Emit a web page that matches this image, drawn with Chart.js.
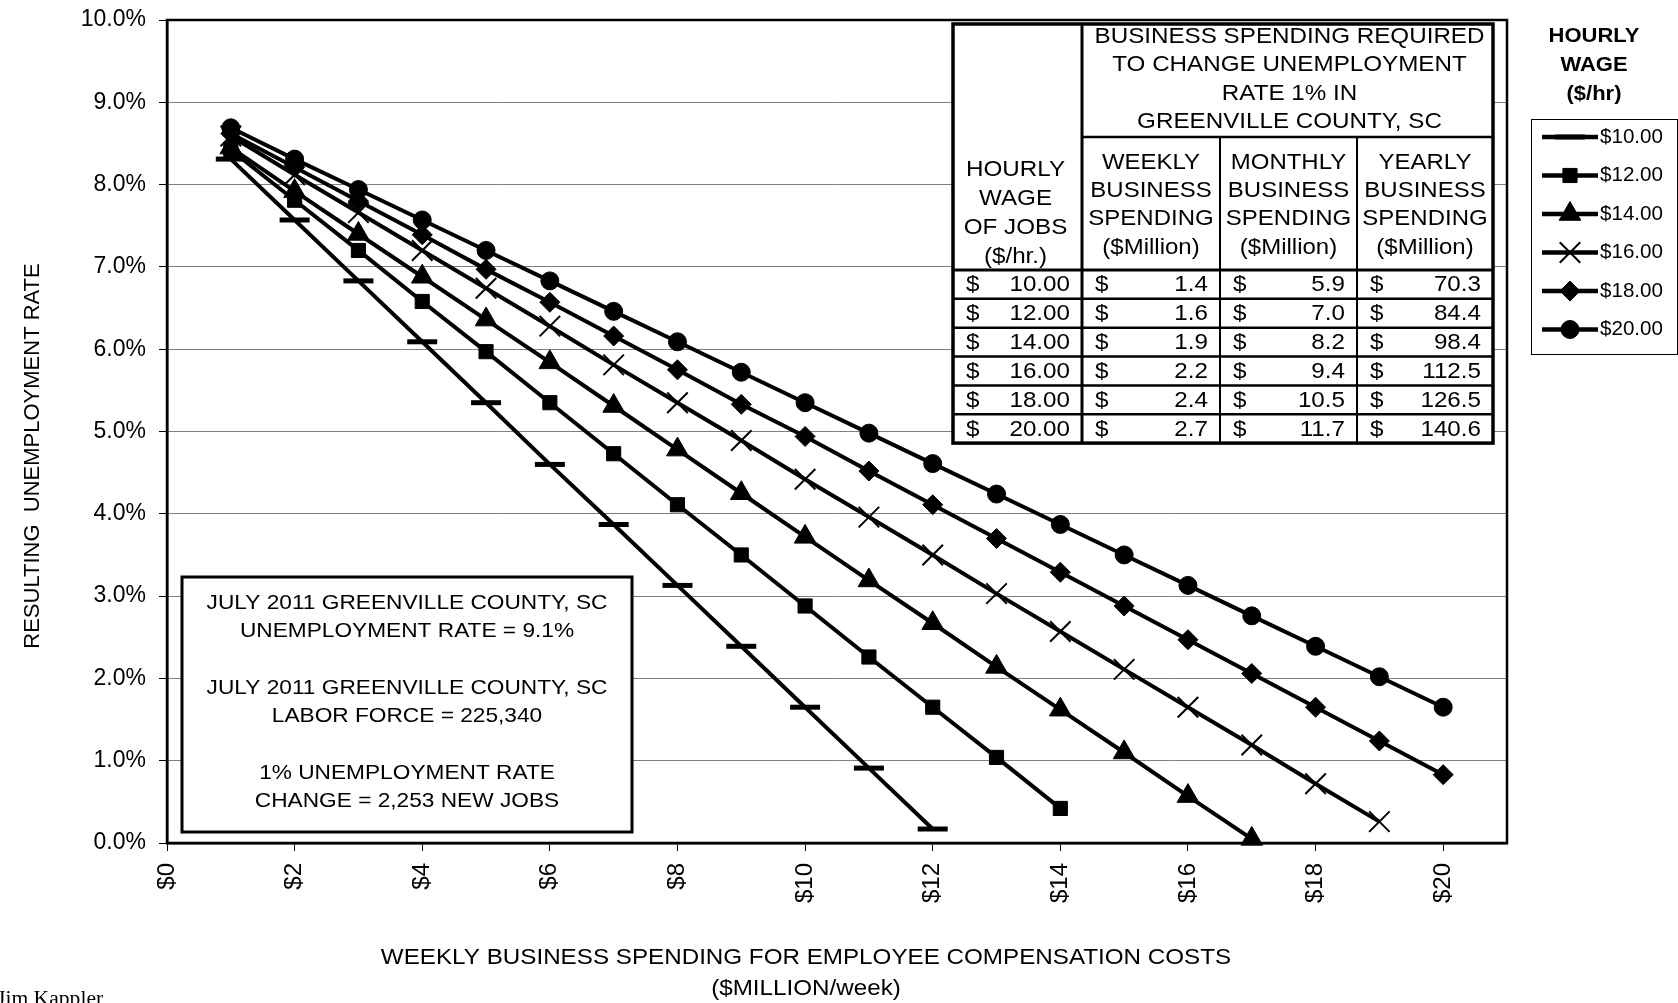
<!DOCTYPE html>
<html>
<head>
<meta charset="utf-8">
<script src="https://cdn.jsdelivr.net/npm/chart.js@4.4.1/dist/chart.umd.min.js"></script>
<style>
  html, body { margin: 0; padding: 0; background: #fff; }
  #wrap { width: 1678px; height: 1003px; }
</style>
</head>
<body>
<div id="wrap"><canvas id="chart" width="1678" height="1003"></canvas></div>
<script>
// weekly business spending ($million/week) at each marker
const spend = [1, 2, 3, 4, 5, 6, 7, 8, 9, 10, 11, 12, 13, 14, 15, 16, 17, 18, 19, 20];

// resulting unemployment rate (%) per hourly wage
const rate10 = [8.31, 7.57, 6.83, 6.09, 5.35, 4.60, 3.87, 3.13, 2.39, 1.65, 0.91, 0.17];
const rate12 = [8.42, 7.81, 7.20, 6.58, 5.97, 5.35, 4.73, 4.11, 3.50, 2.88, 2.26, 1.65, 1.04, 0.42];
const rate14 = [8.45, 7.92, 7.40, 6.88, 6.36, 5.84, 5.31, 4.78, 4.25, 3.72, 3.19, 2.67, 2.14, 1.62, 1.10, 0.57, 0.05];
const rate16 = [8.59, 8.12, 7.66, 7.20, 6.74, 6.28, 5.81, 5.35, 4.89, 4.42, 3.96, 3.50, 3.03, 2.57, 2.11, 1.65, 1.19, 0.72, 0.26];
const rate18 = [8.62, 8.21, 7.80, 7.39, 6.97, 6.57, 6.16, 5.75, 5.33, 4.94, 4.52, 4.11, 3.70, 3.29, 2.88, 2.47, 2.06, 1.65, 1.24, 0.83];
const rate20 = [8.69, 8.31, 7.94, 7.57, 7.20, 6.83, 6.46, 6.09, 5.72, 5.35, 4.98, 4.61, 4.24, 3.87, 3.50, 3.13, 2.76, 2.39, 2.02, 1.65];
const wageLabels = ['$10.00', '$12.00', '$14.00', '$16.00', '$18.00', '$20.00'];

// table in the upper right
const tblWage = [10, 12, 14, 16, 18, 20];
const tblWeekly = [1.4, 1.6, 1.9, 2.2, 2.4, 2.7];
const tblMonthly = [5.9, 7.0, 8.2, 9.4, 10.5, 11.7];
const tblYearly = [70.3, 84.4, 98.4, 112.5, 126.5, 140.6];

// note box
const noteLines = ['JULY 2011 GREENVILLE COUNTY, SC', 'UNEMPLOYMENT RATE = 9.1%', '',
  'JULY 2011 GREENVILLE COUNTY, SC', 'LABOR FORCE = 225,340', '',
  '1% UNEMPLOYMENT RATE', 'CHANGE = 2,253 NEW JOBS'];

const SANS = "'Liberation Sans', Arial, sans-serif";
const SERIF = "'Liberation Serif', 'Times New Roman', serif";

// marker looks, one per series
const markers = [
  { pointStyle: 'line', r: 15, bw: 5 },
  { pointStyle: 'rect', r: 10, bw: 1 },
  { pointStyle: 'triangle', r: 12.5, bw: 1 },
  { pointStyle: 'crossRot', r: 14.5, bw: 2 },
  { pointStyle: 'rectRot', r: 10, bw: 1 },
  { pointStyle: 'circle', r: 9, bw: 1 }
];
const rates = [rate10, rate12, rate14, rate16, rate18, rate20];

const datasets = rates.map((arr, i) => ({
  label: wageLabels[i],
  data: arr.map((v, k) => ({ x: spend[k], y: v })),
  borderColor: '#000',
  backgroundColor: '#000',
  borderWidth: 4,
  pointStyle: markers[i].pointStyle,
  pointRadius: markers[i].r,
  pointBorderWidth: markers[i].bw,
  pointBackgroundColor: '#000',
  pointBorderColor: '#000',
  tension: 0,
  fill: false,
  clip: false
}));

function txt(ctx, s, x, y, font, align, sx, rot) {
  ctx.save();
  ctx.font = font;
  ctx.fillStyle = '#000';
  ctx.textBaseline = 'middle';
  ctx.textAlign = align || 'center';
  ctx.translate(x, y);
  if (rot) ctx.rotate(rot);
  ctx.scale(sx || 1, 1);
  ctx.fillText(s, 0, 0);
  ctx.restore();
}

function line(ctx, x1, y1, x2, y2, w) {
  ctx.beginPath();
  ctx.lineWidth = w;
  ctx.strokeStyle = '#000';
  ctx.moveTo(x1, y1);
  ctx.lineTo(x2, y2);
  ctx.stroke();
}

// boxes on the plot (table + note), drawn over the grid
const boxesPlugin = {
  id: 'boxes',
  beforeDatasetsDraw(chart) {
    const ctx = chart.ctx;
    const tf = '22px ' + SANS;

    // --- table ---
    const cx = [953, 1082, 1220, 1357, 1493];
    const top = 24, mid = 137, head = 270, rowH = 28.85;
    const bottom = head + rowH * tblWage.length;
    ctx.save();
    ctx.fillStyle = '#fff';
    ctx.fillRect(cx[0], top, cx[4] - cx[0], bottom - top);
    line(ctx, cx[1], mid, cx[4], mid, 2.5);
    line(ctx, cx[0], head, cx[4], head, 3);
    for (let r = 1; r < tblWage.length; r++) line(ctx, cx[0], head + r * rowH, cx[4], head + r * rowH, 2.5);
    line(ctx, cx[1], top, cx[1], bottom, 3);
    line(ctx, cx[2], mid, cx[2], bottom, 2);
    line(ctx, cx[3], mid, cx[3], bottom, 2);
    ctx.lineWidth = 3.5;
    ctx.strokeRect(cx[0], top, cx[4] - cx[0], bottom - top);
    ctx.restore();

    ['BUSINESS SPENDING REQUIRED', 'TO CHANGE UNEMPLOYMENT', 'RATE 1% IN', 'GREENVILLE COUNTY, SC']
      .forEach((s, i) => txt(ctx, s, (cx[1] + cx[4]) / 2 + 2, 37 + i * 28.3, tf, 'center', 1.1));
    ['HOURLY', 'WAGE', 'OF JOBS', '($/hr.)']
      .forEach((s, i) => txt(ctx, s, (cx[0] + cx[1]) / 2 - 2, 170 + i * 29, tf, 'center', 1.1));
    ['WEEKLY', 'MONTHLY', 'YEARLY'].forEach((h, c) => {
      [h, 'BUSINESS', 'SPENDING', '($Million)']
        .forEach((s, i) => txt(ctx, s, (cx[c + 1] + cx[c + 2]) / 2, 163 + i * 28.2, tf, 'center', 1.09));
    });
    const cols = [tblWage.map(v => v.toFixed(2)), tblWeekly.map(v => v.toFixed(1)),
                  tblMonthly.map(v => v.toFixed(1)), tblYearly.map(v => v.toFixed(1))];
    cols.forEach((vals, c) => {
      vals.forEach((s, r) => {
        const y = head + rowH * (r + 0.5) + 1;
        txt(ctx, '$', cx[c] + 13, y, tf, 'left', 1.1);
        txt(ctx, s, cx[c + 1] - 12, y, tf, 'right', 1.1);
      });
    });

    // --- note box ---
    ctx.save();
    ctx.fillStyle = '#fff';
    ctx.fillRect(182, 577, 450, 255);
    ctx.lineWidth = 3;
    ctx.strokeStyle = '#000';
    ctx.strokeRect(182, 577, 450, 255);
    ctx.restore();
    noteLines.forEach((s, i) => {
      if (s) txt(ctx, s, 407, 603 + i * 28.33, '21px ' + SANS, 'center', 1.08);
    });
  }
};

// frame, axis titles, legend and credit
const decorPlugin = {
  id: 'decor',
  afterDraw(chart) {
    const ctx = chart.ctx;
    const a = chart.chartArea;
    ctx.save();
    ctx.lineWidth = 2.5;
    ctx.strokeStyle = '#000';
    ctx.strokeRect(a.left, a.top, a.right - a.left, a.bottom - a.top);
    ctx.restore();

    txt(ctx, 'RESULTING  UNEMPLOYMENT RATE', 33, 456, '22px ' + SANS, 'center', 1, -Math.PI / 2);
    txt(ctx, 'WEEKLY BUSINESS SPENDING FOR EMPLOYEE COMPENSATION COSTS', 806, 958, '22px ' + SANS, 'center', 1.1);
    txt(ctx, '($MILLION/week)', 806, 989, '22px ' + SANS, 'center', 1.1);

    ctx.save();
    ctx.font = '20px ' + SERIF;
    ctx.fillStyle = '#000';
    ctx.textBaseline = 'alphabetic';
    ctx.translate(-3, 1005);
    ctx.scale(1.08, 1);
    ctx.fillText('Jim Kappler', 0, 0);
    ctx.restore();

    // legend
    ['HOURLY', 'WAGE', '($/hr)'].forEach((s, i) => txt(ctx, s, 1594, 36.5 + i * 28.8, 'bold 20px ' + SANS, 'center', 1.1));
    ctx.save();
    ctx.lineWidth = 1;
    ctx.strokeStyle = '#000';
    ctx.strokeRect(1531.5, 119.5, 146, 235);
    ctx.restore();
    chart.data.datasets.forEach((ds, i) => {
      const y = 137 + i * 38.5;
      line(ctx, 1542, y, 1598, y, 4.5);
      ctx.save();
      ctx.fillStyle = '#000';
      ctx.strokeStyle = '#000';
      ctx.lineWidth = ds.pointBorderWidth;
      Chart.helpers.drawPoint(ctx, { pointStyle: ds.pointStyle, radius: ds.pointRadius, rotation: 0, borderWidth: ds.pointBorderWidth }, 1570, y);
      ctx.restore();
      txt(ctx, ds.label, 1600, y, '20px ' + SANS, 'left', 1.03);
    });
  }
};

Chart.defaults.color = '#000';
Chart.defaults.font.family = SANS;

new Chart(document.getElementById('chart'), {
  type: 'line',
  data: { datasets },
  options: {
    responsive: false,
    animation: false,
    devicePixelRatio: 1,
    events: [],
    layout: { padding: { left: 0, top: 16, right: 171, bottom: 0 } },
    plugins: { legend: { display: false }, tooltip: { enabled: false } },
    scales: {
      x: {
        type: 'linear',
        min: 0,
        max: 21,
        afterFit: s => { s.height = 160; s.paddingLeft = 0; s.paddingRight = 0; },
        ticks: {
          stepSize: 2,
          includeBounds: false,
          autoSkip: false,
          minRotation: 90,
          maxRotation: 90,
          padding: 12,
          font: { size: 24 },
          callback: v => '$' + v
        },
        grid: { drawOnChartArea: false, drawTicks: true, tickLength: 8, tickColor: '#000', tickWidth: 1 },
        border: { display: true, color: '#000', width: 2.5 }
      },
      y: {
        min: 0,
        max: 10,
        afterFit: s => { s.width = 167; s.paddingTop = 0; s.paddingBottom = 0; },
        ticks: {
          stepSize: 1,
          padding: 13,
          font: { size: 23 },
          callback: v => v.toFixed(1) + '%'
        },
        grid: { color: '#7f7f7f', lineWidth: 1, tickLength: 8, tickColor: '#000', tickWidth: 1 },
        border: { display: true, color: '#000', width: 2.5 }
      }
    }
  },
  plugins: [boxesPlugin, decorPlugin]
});
</script>
</body>
</html>
